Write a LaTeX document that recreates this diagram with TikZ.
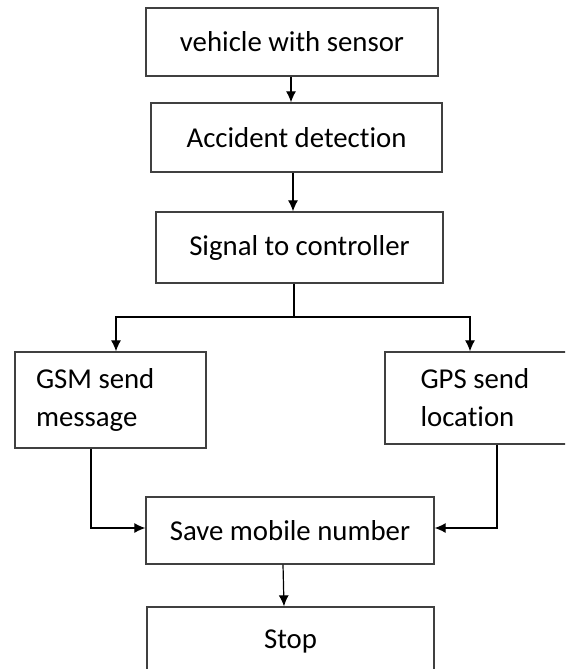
\documentclass[tikz,border=0pt]{standalone}
\usepackage{fontspec}
\setmainfont{Carlito}[Ligatures=NoCommon]
\usetikzlibrary{arrows.meta,positioning}
\tikzset{block/.style={draw=black!75, line width=1.3pt, rectangle, text=black,
                       font=\fontsize{28.8}{38}\selectfont}}

\begin{document}
\begin{tikzpicture}[
                    >={Latex[length=11pt,width=10pt]},
                x=1pt, y=-1pt]

                \useasboundingbox (0,0) rectangle (565,669);
                \clip (0,0) rectangle (565,669);

                \draw(292,42) node[block, minimum width=292, minimum height=68] (veh) {vehicle with sensor};
                \draw(296.5,137.5) node[block, minimum width=291, minimum height=69] (acc) {Accident detection};
                \draw(299.5,247.5) node[block, minimum width=287, minimum height=71] (sig) {Signal to controller};
                \draw(110.5,400) node[block, align=flush left, text width=149, inner xsep=21, minimum height=96] (gsm) {GSM send\\message};
                \draw(480.5,398) node[block, align=flush left, text width=120, inner xsep=35.5, minimum height=92] (gps) {GPS send\\location};
                \draw(290,530.5) node[block, minimum width=288, minimum height=67] (save) {Save mobile number};
                \draw(290.5,641) node[block, minimum width=287, minimum height=68] (stop) {Stop};
                \coordinate (split) at (294,317);

                \draw[->, line width=1.2pt] ([xshift=-1]veh.south) -- ([xshift=-1]veh.south |- acc.north);
                \draw[->, line width=1.2pt] ([xshift=-3.5]acc.south) -- ([xshift=-3.5]acc.south |- sig.north);
                \draw[line width=1.2pt] ([xshift=-5.5]sig.south) -- (split);
                \draw[->, line width=1.2pt] (split) -| ([xshift=5.5]gsm.north);
                \draw[->, line width=1.2pt] (split) -| ([xshift=-10.5]gps.north);
                \draw[->, line width=1.2pt] ([xshift=-19.5]gsm.south) |- ([yshift=2.5]save.west);
                \draw[->, line width=1.2pt] ([xshift=16.5]gps.south) |- ([yshift=2.5]save.east);
                \draw[->, line width=1.2pt] ([xshift=-7]save.south) -- ([xshift=-6.5]stop.north);

            \end{tikzpicture}
\end{document}
